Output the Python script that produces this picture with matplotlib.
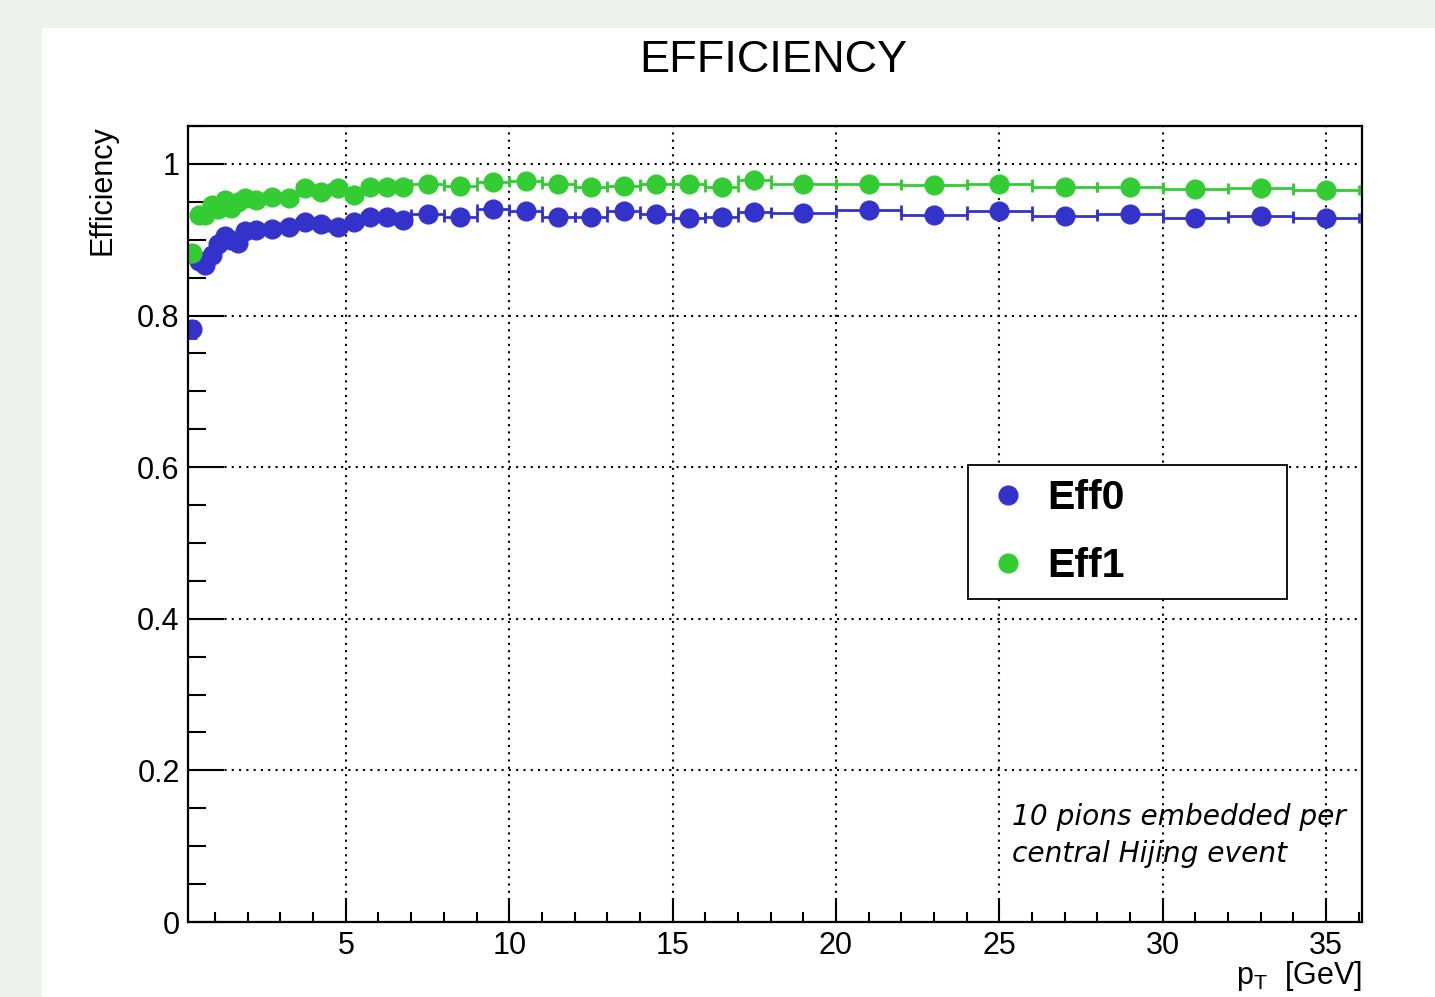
import numpy as np
import matplotlib
matplotlib.use("Agg")
import matplotlib.pyplot as plt
from matplotlib.lines import Line2D
from matplotlib.patches import Rectangle
from matplotlib.ticker import MultipleLocator
from matplotlib import rcParams
rcParams["font.family"] = "Liberation Sans"
rcParams["mathtext.fontset"] = "custom"
rcParams["mathtext.rm"] = "Liberation Sans"

# pT binning: 0.2 GeV up to 2, 0.5 GeV up to 7, 1 GeV up to 18, 2 GeV up to 36
bin_edges = [0.2, 0.4, 0.6, 0.8, 1.0, 1.2, 1.4, 1.6, 1.8, 2.0,
             2.5, 3.0, 3.5, 4.0, 4.5, 5.0, 5.5, 6.0, 6.5, 7.0,
             8, 9, 10, 11, 12, 13, 14, 15, 16, 17, 18,
             20, 22, 24, 26, 28, 30, 32, 34, 36]

eff0 = [0.782, 0.872, 0.866, 0.880, 0.895, 0.905, 0.899, 0.896, 0.912,
        0.913, 0.914, 0.917, 0.923, 0.921, 0.917, 0.923, 0.930, 0.930, 0.926,
        0.934, 0.930, 0.941, 0.938, 0.930, 0.930, 0.938, 0.934, 0.928, 0.930, 0.936,
        0.935, 0.939, 0.933, 0.938, 0.931, 0.934, 0.929, 0.931, 0.929]
eff1 = [0.883, 0.932, 0.933, 0.946, 0.941, 0.952, 0.942, 0.950, 0.955,
        0.953, 0.957, 0.955, 0.968, 0.963, 0.968, 0.959, 0.969, 0.969, 0.970,
        0.973, 0.971, 0.976, 0.977, 0.973, 0.970, 0.971, 0.973, 0.974, 0.970, 0.979,
        0.974, 0.974, 0.972, 0.973, 0.970, 0.969, 0.967, 0.968, 0.966]
err0 = [0.011, 0.007, 0.006, 0.006, 0.005, 0.005, 0.005, 0.005, 0.005,
        0.004, 0.004, 0.004, 0.004, 0.004, 0.004, 0.004, 0.004, 0.004, 0.004,
        0.003, 0.003, 0.003, 0.003, 0.003, 0.003, 0.003, 0.003, 0.003, 0.003, 0.003,
        0.003, 0.003, 0.003, 0.003, 0.003, 0.003, 0.003, 0.003, 0.003]
err1 = [0.008, 0.006, 0.005, 0.005, 0.004, 0.004, 0.004, 0.004, 0.004,
        0.003, 0.003, 0.003, 0.003, 0.003, 0.003, 0.003, 0.003, 0.003, 0.003,
        0.002, 0.002, 0.002, 0.002, 0.002, 0.002, 0.002, 0.002, 0.002, 0.002, 0.002,
        0.002, 0.002, 0.002, 0.002, 0.002, 0.002, 0.002, 0.002, 0.002]
labels = ["Eff0", "Eff1"]

edges = np.array(bin_edges)
pt = 0.5 * (edges[1:] + edges[:-1])
half_w = 0.5 * (edges[1:] - edges[:-1])

blue = "#3333cc"
green = "#33cc33"

W, H = 1435, 997
fig = plt.figure(figsize=(W / 100, H / 100), dpi=100)
fig.patch.set_facecolor("#eef0ee")
fig.add_artist(Rectangle((42 / W, 0), 1 - 42 / W, 1 - 28 / H, transform=fig.transFigure,
                         facecolor="white", edgecolor="none", zorder=0))

ax = fig.add_axes([188 / W, 75 / H, 1174 / W, 796 / H])
ax.set_axisbelow(True)

for y, yerr, c in [(eff0, err0, blue), (eff1, err1, green)]:
    ax.errorbar(pt, y, xerr=half_w, yerr=yerr, fmt="o", color=c, ms=13.5,
                elinewidth=2, capsize=3.5, capthick=2)

ax.set_xlim(0.17, 36.1)
ax.set_ylim(0, 1.05)
ax.xaxis.set_minor_locator(MultipleLocator(1))
ax.yaxis.set_minor_locator(MultipleLocator(0.05))
ax.set_xticks([5, 10, 15, 20, 25, 30, 35])
ax.set_yticks([0, 0.2, 0.4, 0.6, 0.8, 1.0])
ax.set_yticklabels(["0", "0.2", "0.4", "0.6", "0.8", "1"])

ax.grid(True, which="major", color="black", linestyle=(0, (1, 2.5)), lw=1.5)
ax.tick_params(which="both", direction="in", top=False, right=False, width=1.5, labelsize=22)
ax.tick_params(axis="x", which="major", length=17, pad=6.5)
ax.tick_params(axis="x", which="minor", length=7)
ax.tick_params(axis="y", which="major", length=26, pad=6)
ax.tick_params(axis="y", which="minor", length=13)
for s in ax.spines.values():
    s.set_linewidth(1.6)

handles = [Line2D([], [], marker="o", ls="none", color=c, ms=13.5) for c in (blue, green)]
leg = ax.legend(handles, labels, prop={"weight": "bold", "size": 29.5},
                bbox_to_anchor=(968 / W, 1 - 596 / H, 319 / W, 131 / H),
                bbox_transform=fig.transFigure, loc="upper left", mode="expand",
                borderaxespad=0, borderpad=0.35, labelspacing=0.72,
                handlelength=1.25, handletextpad=0.33, fancybox=False, framealpha=1)
leg.get_frame().set_edgecolor("black")
leg.get_frame().set_linewidth(1.3)

fig.text(773 / W, 1 - 60 / H, "EFFICIENCY", ha="center", va="center", fontsize=32.5)
fig.text(103 / W, 1 - 125 / H, "Efficiency", rotation=90, ha="center", va="top", fontsize=22)
fig.text(1362 / W, 1 - 984 / H, r"p$_{\mathregular{T}}$  [GeV]", ha="right",
         va="baseline", fontsize=22)
fig.text(1012 / W, 1 - 862 / H, "10 pions embedded per\ncentral Hijing event",
         family="DejaVu Sans", style="italic", fontsize=20.2, va="baseline", ha="left",
         linespacing=1.4)

fig.savefig("out.png", dpi=100)
